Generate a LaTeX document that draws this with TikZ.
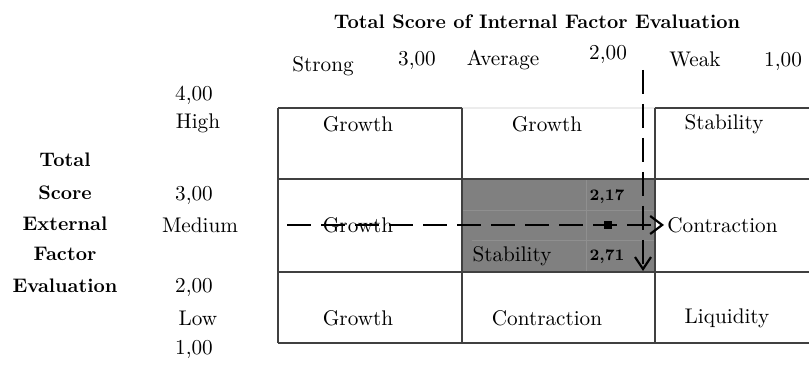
\documentclass[tikz,border=0pt]{standalone}
\usepackage{tikz}
\usetikzlibrary{positioning,arrows.meta}

\begin{document}
\begin{tikzpicture}[x=0.5pt, y=-0.5pt, font=\fontsize{10.6}{12}\selectfont,
		txt/.style={inner sep=0pt},
		bold/.style={inner sep=0pt, font=\fontsize{9.8}{12}\selectfont\bfseries},
		score/.style={inner sep=0pt, font=\fontsize{8}{10}\selectfont\bfseries},
		gridline/.style={draw=black!75, line width=0.85pt},
		track/.style={line width=1.1pt, dash pattern=on 12pt off 5pt}]
		% 画布大小
		\useasboundingbox (0, 0) rectangle (809, 367);
		% 灰色的格子和里面的细线
		\fill[gray] (462, 179) rectangle (655, 272);
		\draw[gray!88!white, line width=0.5pt] (586, 179) -- (586, 272) (462, 211) -- (655, 211) (472, 241) -- (655, 241);
		% 表格的横线和竖线
		\draw[gridline] (278, 108) -- (462, 108) (655, 108) -- (809, 108);
		\draw[gray!15, line width=0.8pt] (462, 108) -- (655, 108);
		\foreach \r in {179, 272, 343} {
				\draw[gridline] (278, \r) -- (809, \r);
			}
		\foreach \c in {278, 462, 655} {
				\draw[gridline] (\c, 108) -- (\c, 343);
			}
		% 标题
		\node[bold] (title) at (537, 22) {Total Score of Internal Factor Evaluation};
		% 上方的刻度
		\node[txt] (strong) at (323, 66) {Strong};
		\node[txt] (s3) at (417, 60) {3,00};
		\node[txt] (avg) at (503, 60) {Average};
		\node[txt] (s2) at (608, 54) {2,00};
		\node[txt] (weak) at (695, 59) {Weak};
		\node[txt] (s1) at (783, 61) {1,00};
		% 左边的刻度
		\node[txt] (e4) at (194, 95) {4,00};
		\node[txt] (high) at (198, 123) {High};
		\node[txt] (e3) at (194, 195) {3,00};
		\node[txt] (medium) at (200, 225) {Medium};
		\node[txt] (e2) at (194, 287) {2,00};
		\node[txt] (low) at (198, 318) {Low};
		\node[txt] (e1) at (194, 349) {1,00};
		% 左边的竖排标题
		\foreach \w/\y in {Total/160, Score/193, External/224, Factor/254, Evaluation/286} {
				\node[bold] (\w) at (65, \y) {\w};
			}
		% 格子里的文字
		\node[txt] (g11) at (358, 124) {Growth};
		\node[txt] (g12) at (547, 124) {Growth};
		\node[txt] (s13) at (724, 124) {Stability};
		\node[txt] (g21) at (358, 225) {Growth};
		\node[txt] (s22) at (512, 256) {Stability};
		\node[txt] (g31) at (358, 318) {Growth};
		\node[txt] (c32) at (547, 318) {Contraction};
		\node[txt] (l33) at (727, 318) {Liquidity};
		\node[score] (v217) at (607, 197) {2,17};
		\node[score] (v271) at (607, 257) {2,71};
		% 两条虚线箭头和交点
		\node[inner sep=1.5pt, anchor=west] (c23) at (664, 225) {Contraction};
		\coordinate (hstart) at (287, 225);
		\coordinate (vstart) at (643, 70);
		\coordinate (vend) at (643, 271);
		\draw[track, -{Straight Barb[length=6pt, width=9pt]}] (hstart) -- (c23.west);
		\draw[track, -{Straight Barb[length=6pt, width=8pt]}] (vstart) -- (vend);
		\node[fill, inner sep=0pt, minimum size=4pt] (pos) at (608, 225) {};
	\end{tikzpicture}
\end{document}
